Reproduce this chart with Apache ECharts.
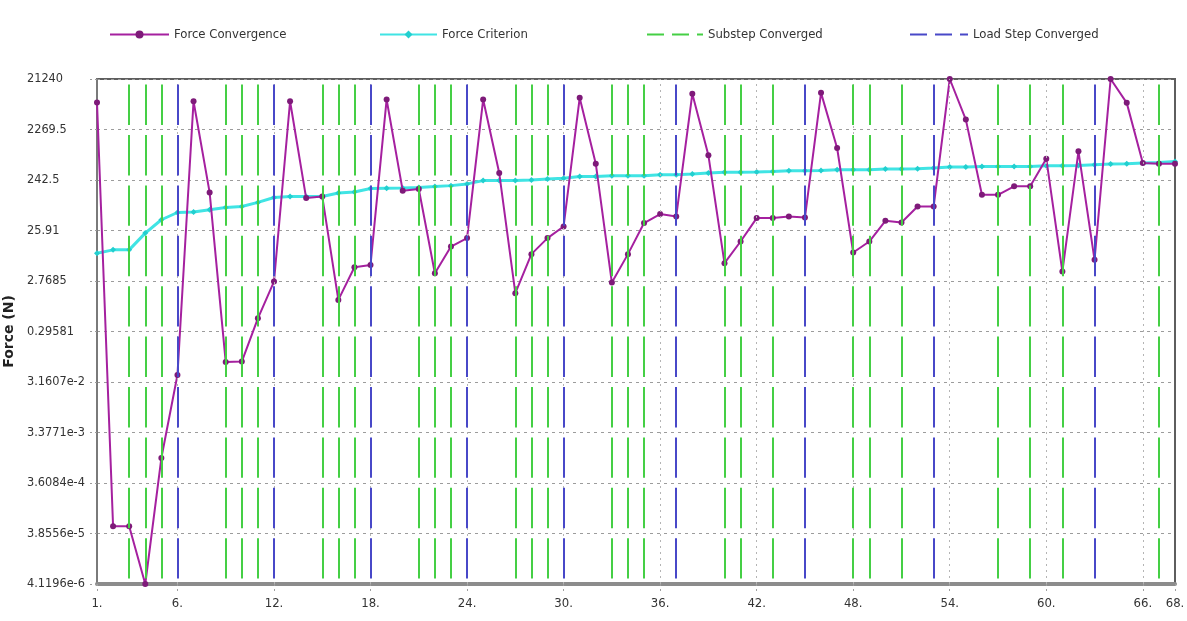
<!DOCTYPE html>
<html>
<head>
<meta charset="utf-8">
<title>Force Convergence</title>
<script src="https://cdn.jsdelivr.net/npm/echarts@6/dist/echarts.min.js"></script>
<style>
  html, body { margin: 0; padding: 0; background: #ffffff; }
  #chart { width: 1187px; height: 621px; }
</style>
</head>
<body>
<div id="chart"></div>
<script>
// Cumulative iteration numbers
const iterations = [
  1, 2, 3, 4, 5, 6, 7, 8, 9, 10, 11, 12, 13, 14, 15, 16, 17,
  18, 19, 20, 21, 22, 23, 24, 25, 26, 27, 28, 29, 30, 31, 32, 33, 34,
  35, 36, 37, 38, 39, 40, 41, 42, 43, 44, 45, 46, 47, 48, 49, 50, 51,
  52, 53, 54, 55, 56, 57, 58, 59, 60, 61, 62, 63, 64, 65, 66, 67, 68
];

// Force residual norm per iteration (N)
const forceConvergence = [
  7480, 5.3e-5, 5.3e-5, 4.1196e-6, 1.09e-3, 0.043, 7930, 140, 0.077, 0.078, 0.53, 2.7, 7930, 109, 117, 1.2, 5.1,
  5.65, 8550, 151, 163, 3.9, 12.7, 18.5, 8550, 330, 1.61, 9.1, 18.5, 31, 9220, 500, 2.58, 9.1,
  36, 53.6, 48.2, 11000, 722, 6.1, 15.9, 44.9, 44.9, 48.2, 46, 11500, 1000, 9.76, 15.9, 39.8, 37,
  75, 75, 21240, 3520, 126, 126, 183, 183, 624, 4.2, 863, 7.06, 21240, 7380, 515, 500, 500
];

// Force convergence criterion per iteration (N)
const forceCriterion = [
  9.5, 11.0, 11.0, 23.1, 41.7, 57.5, 59, 65, 72, 75, 90, 112, 117, 117, 117, 136, 142,
  166, 168, 170, 174, 181, 189, 204, 236, 236, 236, 243, 254, 262, 284, 284, 293, 293,
  293, 307, 307, 316, 331, 340, 340, 346, 355, 366, 366, 371, 383, 383, 383, 395, 395,
  400, 413, 432, 432, 443, 443, 443, 443, 457, 457, 463, 478, 493, 500, 515, 529, 553
];

// Iterations where a substep / a load step converged
const substepConverged = [3, 4, 5, 9, 10, 11, 15, 16, 17, 21, 22, 23, 27, 28, 29, 33, 34, 35, 40, 41, 43, 48, 49, 51, 57, 59, 61, 67];
const loadStepConverged = [6, 12, 18, 24, 30, 37, 45, 53, 63];

// Axis tick labels
const yTickLabels = ['4.1196e-6', '3.8556e-5', '3.6084e-4', '3.3771e-3', '3.1607e-2', '0.29581', '2.7685', '25.91', '242.5', '2269.5', '21240'];
const xTickLabels = [1, 6, 12, 18, 24, 30, 36, 42, 48, 54, 60, 66, 68];

const FONT = "'DejaVu Sans Condensed', 'Liberation Sans Narrow', sans-serif";

// The force axis is logarithmic with evenly spaced labelled levels:
// map a force onto the position of those levels (0 .. n-1).
const logLo = Math.log10(parseFloat(yTickLabels[0]));
const logHi = Math.log10(parseFloat(yTickLabels[yTickLabels.length - 1]));
const nLevels = yTickLabels.length - 1;
const toLevel = v => (Math.log10(v) - logLo) / (logHi - logLo) * nLevels;

const convergencePts = iterations.map((it, i) => [it, toLevel(forceConvergence[i])]);
const criterionPts = iterations.map((it, i) => [it, toLevel(forceCriterion[i])]);

function verticals(list, color, width, dash, offset) {
  return {
    silent: true,
    symbol: 'none',
    animation: false,
    label: { show: false },
    emphasis: { disabled: true },
    lineStyle: { color: color, width: width, type: dash, dashOffset: offset },
    data: list.map(x => ({ xAxis: x }))
  };
}

const legendBase = {
  top: 28,
  padding: 0,
  itemHeight: 10,
  itemGap: 0,
  selectedMode: false,
  textStyle: { fontFamily: FONT, fontSize: 13, color: '#333' }
};

const chart = echarts.init(document.getElementById('chart'), null, { renderer: 'canvas' });

chart.setOption({
  animation: false,
  backgroundColor: '#ffffff',
  legend: [
    Object.assign({}, legendBase, { left: 109, itemWidth: 59, data: ['Force Convergence'] }),
    Object.assign({}, legendBase, { left: 379, itemWidth: 57, data: ['Force Criterion'] }),
    Object.assign({}, legendBase, { left: 646, itemWidth: 56, data: [{ name: 'Substep Converged', itemStyle: { opacity: 0 } }] }),
    Object.assign({}, legendBase, { left: 909, itemWidth: 58, data: [{ name: 'Load Step Converged', itemStyle: { opacity: 0 } }] })
  ],
  grid: {
    left: 97, right: 12, top: 79, bottom: 37,
    outerBoundsMode: 'none',
    containLabel: false,
    show: true,
    borderColor: '#5e5e5e',
    borderWidth: 2,
    backgroundColor: 'transparent'
  },
  xAxis: {
    type: 'value',
    min: 1,
    max: 68,
    axisLine: { show: true, onZero: false, lineStyle: { color: '#8c8c8c', width: 4 } },
    axisTick: {
      show: true,
      customValues: xTickLabels,
      length: 8,
      lineStyle: { color: '#a0a0a0', type: [2, 3] }
    },
    axisLabel: {
      customValues: xTickLabels,
      margin: 13,
      fontFamily: FONT,
      fontSize: 13,
      color: '#333',
      formatter: v => v + '.'
    },
    splitLine: { show: false }
  },
  yAxis: {
    type: 'value',
    min: 0,
    max: nLevels,
    interval: 1,
    name: 'Force (N)',
    nameLocation: 'middle',
    nameGap: 80,
    nameRotate: 90,
    nameTextStyle: { fontFamily: "'DejaVu Sans', sans-serif", fontWeight: 'bold', fontSize: 14, color: '#222' },
    axisLine: { show: true, lineStyle: { color: '#7a7a7a', width: 2 } },
    axisTick: { show: true, length: 9, lineStyle: { color: '#9a9a9a', type: [2, 3] } },
    axisLabel: {
      margin: 70,
      align: 'left',
      fontFamily: FONT,
      fontSize: 12.6,
      color: '#333',
      formatter: v => yTickLabels[Math.round(v)]
    },
    splitLine: { show: true, lineStyle: { color: '#9c9c9c', width: 1, type: [3, 4] } }
  },
  series: [
    {
      name: 'grid-x',
      type: 'line',
      data: [],
      z: 1,
      markLine: verticals(xTickLabels.slice(1, -1), '#b4b4b4', 1, [2, 4], 0)
    },
    {
      name: 'Substep Converged',
      type: 'line',
      data: [],
      z: 2,
      symbol: 'none',
      itemStyle: { color: '#45cf45' },
      lineStyle: { color: '#45cf45', width: 2, type: [17, 8] },
      markLine: verticals(substepConverged, '#45cf45', 2, [40.4, 10], 45)
    },
    {
      name: 'Load Step Converged',
      type: 'line',
      data: [],
      z: 2,
      symbol: 'none',
      itemStyle: { color: '#4848c8' },
      lineStyle: { color: '#4848c8', width: 2, type: [17, 8] },
      markLine: verticals(loadStepConverged, '#4848c8', 2, [40.4, 10], 45)
    },
    {
      name: 'Force Criterion',
      type: 'line',
      data: criterionPts,
      z: 3,
      clip: false,
      symbol: 'diamond',
      symbolSize: 6,
      itemStyle: { color: '#22cfcf' },
      lineStyle: { color: '#40e4e4', width: 3 }
    },
    {
      name: 'Force Convergence',
      type: 'line',
      data: convergencePts,
      z: 4,
      clip: false,
      symbol: 'circle',
      symbolSize: 6,
      itemStyle: { color: '#7e1a79' },
      lineStyle: { color: '#a5209f', width: 2 }
    }
  ]
});
</script>
</body>
</html>
